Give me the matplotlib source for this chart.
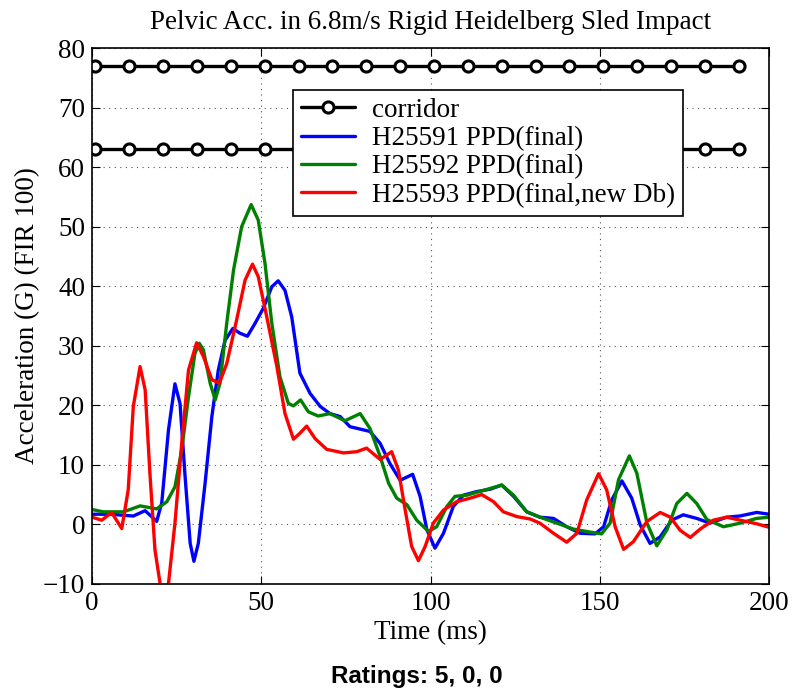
import matplotlib
matplotlib.use("Agg")
import matplotlib.pyplot as plt

# corridor
corr_t = [1, 11, 21, 31, 41, 51, 61, 71, 81, 91, 101, 111, 121, 131, 141, 151, 161, 171, 181, 191]
corr_upper = [77] * 20
corr_lower = [63] * 20

# H25591 PPD(final)
t1 = [0, 5.3, 12.2, 15.7, 17.6, 19.1, 20.6, 22.6, 24.5, 26.0, 27.5, 29.0, 30.1, 31.4, 33.4,
      35.4, 37.3, 39.3, 41.6, 43.7, 45.9, 48.2, 50.6, 53.1, 55.0, 57.0, 59.0, 61.4, 64.4,
      67.4, 70.3, 73.3, 76.2, 79.2, 82.1, 85.1, 88.0, 91.0, 94.7, 96.9, 98.9, 101.3, 103.8,
      106.7, 109.7, 113.6, 117.6, 121.0, 124.5, 128.4, 132.3, 136.3, 140.2, 144.2, 148.6,
      151.1, 153.5, 156.5, 159.4, 161.9, 164.8, 167.8, 171.2, 174.6, 178.6, 182.5, 187.4,
      191.3, 196.3, 200]
y1 = [1.7, 1.7, 1.4, 2.3, 1.3, 0.5, 3.6, 15.9, 23.6, 20.3, 8.0, -3.2, -6.2, -3.2, 6.9,
      18.1, 25.9, 30.9, 32.9, 32.1, 31.6, 33.8, 36.3, 39.9, 40.9, 39.3, 34.8, 25.4, 22.0,
      19.8, 18.6, 18.1, 16.4, 16.0, 15.6, 13.6, 10.2, 7.4, 8.4, 4.7, -0.9, -4.0, -1.5,
      3.0, 4.9, 5.5, 5.9, 6.6, 4.7, 2.1, 1.2, 1.0, -0.4, -1.5, -1.6,
      -0.4, 4.1, 7.3, 4.4, -0.1, -3.2, -2.1, 0.7, 1.6, 1.0, 0.2, 1.2,
      1.4, 2.0, 1.7]

# H25592 PPD(final)
t2 = [0, 3.3, 9.3, 14.2, 19.1, 22.1, 24.5, 26.5, 28.5, 30.4, 31.7, 32.9, 34.9, 36.4, 37.8,
      39.8, 41.8, 44.2, 47.0, 49.1, 51.1, 53.1, 55.5, 58.0, 59.5, 61.6, 63.9, 66.8, 70.3,
      74.7, 79.2, 82.1, 85.1, 87.6, 90.0, 93.0, 95.9, 99.4, 101.8, 104.8, 107.2, 110.7,
      115.6, 121.0, 124.5, 128.4, 132.3, 137.3, 142.2, 147.1, 150.5, 153.0, 155.5, 158.7,
      160.9, 163.9, 166.8, 169.8, 172.7, 175.7, 178.6, 181.6, 186.5, 191.4, 196.3, 200]
y2 = [2.5, 2.1, 2.1, 3.1, 2.6, 3.8, 6.3, 12.5, 21.4, 28.7, 30.4, 29.3, 23.7, 20.9, 23.7,
      33.8, 42.7, 50.0, 53.7, 51.1, 43.8, 33.8, 24.8, 20.3, 19.9, 20.9, 18.9, 18.2, 18.6,
      17.4, 18.6, 16.1, 11.4, 6.9, 4.4, 3.3, 0.7, -1.2, -0.4, 3.0, 4.7, 4.9,
      5.7, 6.6, 4.9, 2.1, 1.2, 0.2, -0.8, -1.3, -1.6, 0.2, 7.5, 11.5,
      8.6, 0.2, -3.6, -0.9, 3.5, 5.2, 3.5, 0.8, -0.4, 0.2, 1.0, 1.2]

# H25593 PPD(final,new Db)
t3 = [0, 2.9, 5.8, 8.8, 10.7, 12.2, 14.2, 15.7, 17.1, 18.6, 20.1, 21.3, 22.6, 24.5, 26.5,
      28.5, 30.9, 32.9, 35.4, 37.6, 39.8, 42.7, 45.2, 47.4, 49.1, 51.6, 54.6, 57.0, 59.5,
      61.4, 63.4, 65.9, 69.3, 74.3, 78.2, 81.1, 85.1, 88.5, 90.5, 92.5, 94.4, 96.4, 98.4,
      100.8, 103.8, 107.7, 111.7, 115.1, 118.6, 121.5, 125.5, 129.4, 132.3, 136.3, 140.2,
      143.2, 146.1, 149.6, 152.0, 154.5, 157.0, 159.9, 163.9, 167.8, 170.8, 173.7, 176.7,
      179.6, 183.5, 187.4, 191.4, 196.3, 200]
y3 = [1.2, 0.7, 2.0, -0.7, 5.8, 19.8, 26.5, 22.6, 8.6, -4.3, -9.9, -12.0, -9.9, 0.2, 13.6,
      25.9, 30.5, 28.2, 24.3, 23.7, 27.0, 34.3, 41.0, 43.7, 41.6, 34.9, 26.5, 18.6, 14.3,
      15.3, 16.5, 14.4, 12.6, 12.0, 12.2, 12.8, 10.9, 12.2, 9.1, 2.4, -3.7, -6.1, -3.7,
      0.2, 2.4, 3.8, 4.4, 5.0, 3.8, 2.1, 1.3, 0.9, 0.2, -1.5, -3.0,
      -1.5, 4.1, 8.5, 5.8, -0.4, -4.2, -2.9, 0.5, 2.0, 1.2, -1.0, -2.2,
      -0.8, 0.7, 1.2, 0.7, 0.1, -0.5]

plt.rcParams["font.family"] = ["Liberation Serif", "DejaVu Serif"]

fig = plt.figure(figsize=(7.93, 6.91), dpi=100)
ax = fig.add_axes([0.116, 0.155, 0.854, 0.7755])

line_kw = dict(lw=2.4, solid_joinstyle="round", solid_capstyle="round")
ax.plot(corr_t, corr_upper, color="black", marker="o", ms=8, mfc="white", mew=2.2,
        label="corridor", **line_kw)
ax.plot(corr_t, corr_lower, color="black", marker="o", ms=8, mfc="white", mew=2.2, **line_kw)
ax.plot(t1, y1, color="#0000ff", label="H25591 PPD(final)", **line_kw)
ax.plot(t2, y2, color="#008000", label="H25592 PPD(final)", **line_kw)
ax.plot(t3, y3, color="#ff0000", label="H25593 PPD(final,new Db)", **line_kw)

ax.set_xlim(0, 200)
ax.set_ylim(-10, 80)
ax.set_xticks([0, 50, 100, 150, 200])
ax.set_yticks(range(-10, 81, 10))
ax.tick_params(direction="in", labelsize=19.5, top=True, right=True, length=6, pad=5)
ax.grid(True, linestyle=(0, (1, 4)), color="#555555", lw=0.8)
for s in ax.spines.values():
    s.set_linewidth(1.2)

ax.set_title("Pelvic Acc. in 6.8m/s Rigid Heidelberg Sled Impact", fontsize=19.5, pad=14)
ax.set_xlabel("Time (ms)", fontsize=19.5, labelpad=3)
ax.set_ylabel("Acceleration (G) (FIR 100)", fontsize=19.5, labelpad=2)

leg = ax.legend(loc="upper left", bbox_to_anchor=(0.297, 0.922), fontsize=19.5, frameon=True,
                fancybox=False, edgecolor="black", framealpha=1, handlelength=2.0,
                borderpad=0.3, labelspacing=0.12, handletextpad=0.6, borderaxespad=0)
leg.get_frame().set_linewidth(1.2)

fig.text(0.525, 0.021, "Ratings: 5, 0, 0", fontsize=17.5, fontweight="bold",
         family=["Liberation Sans", "DejaVu Sans"], ha="center", va="center")

fig.savefig("out.png", dpi=100)
